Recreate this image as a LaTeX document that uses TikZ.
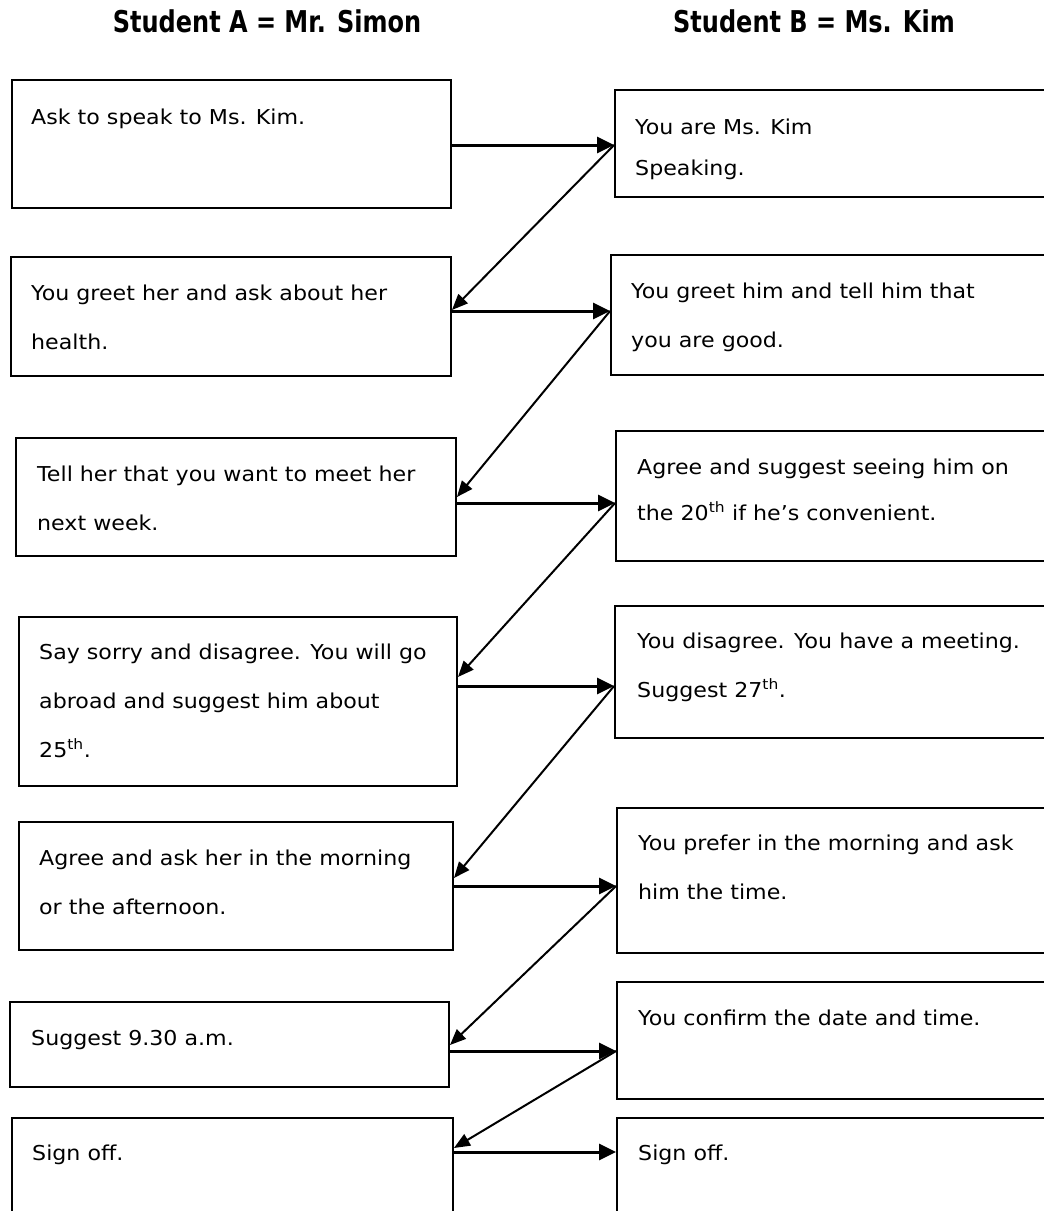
\documentclass[tikz,border=0pt]{standalone}
\usepackage{fontspec}
\setmainfont{DejaVu Sans}[FakeStretch=1.08]
\newfontfamily\headfont{DejaVu Sans}[FakeStretch=0.8]
\usetikzlibrary{arrows.meta,fit}

\begin{document}
\begin{tikzpicture}[x=1pt, y=-1pt,
    box/.style={draw, line width=1.9pt, inner sep=0pt},
    txt/.style={font=\fontsize{20.5}{49}\selectfont, align=left, inner sep=0pt, anchor=base west},
    head/.style={font=\headfont\fontsize{30}{34}\selectfont\bfseries, inner sep=0pt, anchor=base},
    harrow/.style={line width=3pt, -{Triangle[length=17pt, width=16pt]}},
    darrow/.style={line width=2pt, -{Triangle[length=16pt, width=13pt]}}]

\useasboundingbox (0,0) rectangle (1044,1211);

% Column headings
\node[head] (headA) at (267, 32) {Student A = Mr. Simon};
\node[head] (headB) at (814, 32) {Student B = Ms. Kim};

% Student A boxes (left column)
\node[box, fit={(12,80) (451,208)}] (a1) {};
\node[box, fit={(11,257) (451,376)}] (a2) {};
\node[box, fit={(16,438) (456,556)}] (a3) {};
\node[box, fit={(19,617) (457,786)}] (a4) {};
\node[box, fit={(19,822) (453,950)}] (a5) {};
\node[box, fit={(10,1002) (449,1087)}] (a6) {};
\node[box, fit={(12,1118) (453,1240)}] (a7) {};

% Student B boxes (right column, cut off at the page edge)
\node[box, fit={(615,90) (1060,197)}] (b1) {};
\node[box, fit={(611,255) (1060,375)}] (b2) {};
\node[box, fit={(616,431) (1060,561)}] (b3) {};
\node[box, fit={(615,606) (1060,738)}] (b4) {};
\node[box, fit={(617,808) (1060,953)}] (b5) {};
\node[box, fit={(617,982) (1060,1099)}] (b6) {};
\node[box, fit={(617,1118) (1060,1240)}] (b7) {};

% Text of Student A (y = baseline of the last line)
\node[txt] (ta1) at (31, 124) {Ask to speak to Ms. Kim.};
\node[txt] (ta2) at (31, 349) {You greet her and ask about her\\health.};
\node[txt] (ta3) at (37, 530) {Tell her that you want to meet her\\next week.};
\node[txt] (ta4) at (39, 757) {Say sorry and disagree. You will go\\abroad and suggest him about\\25\textsuperscript{th}.};
\node[txt] (ta5) at (39, 914) {Agree and ask her in the morning\\or the afternoon.};
\node[txt] (ta6) at (31, 1045) {Suggest 9.30 a.m.};
\node[txt] (ta7) at (32, 1160) {Sign off.};

% Text of Student B
\node[txt] (tb1) at (635, 175) {You are Ms. Kim\\[-8pt]Speaking.};
\node[txt] (tb2) at (631, 347) {You greet him and tell him that\\you are good.};
\node[txt] (tb3) at (637, 520) {Agree and suggest seeing him on\\[-3pt]the 20\textsuperscript{th} if he’s convenient.};
\node[txt] (tb4) at (637, 697) {You disagree. You have a meeting.\\Suggest 27\textsuperscript{th}.};
\node[txt] (tb5) at (638, 899) {You prefer in the morning and ask\\him the time.};
\node[txt] (tb6) at (638, 1025) {You confirm the date and time.};
\node[txt] (tb7) at (638, 1160) {Sign off.};

% A to B arrows
\foreach \r/\y in {1/145, 2/311, 3/503, 4/686, 5/886, 6/1051, 7/1152} {
    \draw[harrow] (a\r.east |- 0,\y) -- (b\r.west |- 0,\y);
}

% B back to next A arrows
\foreach \r/\n/\ys/\ye in {1/2/145/310, 2/3/311/497, 3/4/503/677, 4/5/686/878, 5/6/886/1045, 6/7/1051/1148} {
    \draw[darrow] (b\r.west |- 0,\ys) -- (a\n.east |- 0,\ye);
}

\end{tikzpicture}
\end{document}
